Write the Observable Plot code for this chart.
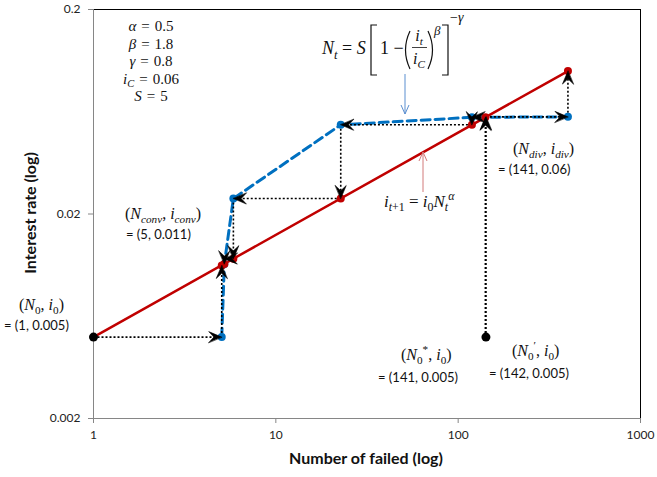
<!DOCTYPE html>
<html>
<head>
<meta charset="utf-8">
<script src="https://cdn.jsdelivr.net/npm/d3@7"></script>
<script src="https://cdn.jsdelivr.net/npm/@observablehq/plot@0.6"></script>
<style>
  html, body { margin: 0; padding: 0; background: #fff; }
  #chart svg { display: block; }
</style>
</head>
<body>
<div id="chart"></div>
<script>
// ---- data ----
const xTicks = [1, 10, 100, 1000];
const yTicks = [0.002, 0.02, 0.2];

// red line i_{t+1} = i0 * N_t^alpha
const redLineN = [1, 400];
const redLineI = [0.005, 0.1];

// blue dashed curve N_t = S[1-(i/iC)^beta]^-gamma (points along the cobweb)
const blueN = [5.05, 5.22, 5.85, 22.7, 119, 400];
const blueI = [0.005, 0.0114, 0.0238, 0.0546, 0.0594, 0.0597];

// red markers on the red line
const redDotN = [5.05, 5.22, 5.85, 22.7, 119, 141, 400];
const redDotI = [0.0112, 0.0114, 0.0121, 0.0238, 0.0546, 0.0594, 0.1];

// black starting points
const startN = [1, 142];
const startI = [0.005, 0.005];

// cobweb paths (dotted arrows)
const pathAN = [1, 5.05, 5.05];
const pathAI = [0.005, 0.005, 0.0112];
const pathBN = [141, 141, 119, 119, 22.7, 22.7, 5.85, 5.85, 5.22, 5.22];
const pathBI = [0.005, 0.0594, 0.0594, 0.0546, 0.0546, 0.0238, 0.0238, 0.0121, 0.0121, 0.0114];
const pathCN = [142, 142, 400, 400];
const pathCI = [0.005, 0.0597, 0.0597, 0.1];

// ---- build tables ----
const pts = (N, I) => N.map((n, k) => ({x: n, y: I[k]}));
const segsOf = (N, I) => N.slice(0, -1).map((n, k) => ({x1: n, y1: I[k], x2: N[k + 1], y2: I[k + 1]}));
const segs = [...segsOf(pathAN, pathAI), ...segsOf(pathBN, pathBI), ...segsOf(pathCN, pathCI)];
const dirOf = d => d.y1 === d.y2 ? (d.x2 > d.x1 ? 90 : -90) : (d.y2 > d.y1 ? 0 : 180);

const stealth = {
  draw(ctx, l, r) {
    ctx.moveTo(0, -l);
    ctx.lineTo(-r, 0);
    ctx.lineTo(0, -l * 0.4);
    ctx.lineTo(r, 0);
    ctx.closePath();
  }
};

const RED = "#c00000", BLUE = "#0070c0", GRAY = "#868686";

const plot = Plot.plot({
  width: 657,
  height: 477,
  marginLeft: 93,
  marginRight: 17,
  marginTop: 9,
  marginBottom: 59,
  style: {fontFamily: "Lato, 'Open Sans', sans-serif", fontSize: "12px", background: "#fff", color: "#222"},
  x: {type: "log", domain: [1, 1000]},
  y: {type: "log", domain: [0.002, 0.2]},
  marks: [
    Plot.ruleY([0.2], {stroke: "black", strokeWidth: 1}),
    Plot.ruleX([1000], {stroke: "black", strokeWidth: 1}),
    Plot.ruleX([1], {stroke: GRAY, strokeWidth: 1}),
    Plot.ruleY([0.002], {stroke: GRAY, strokeWidth: 1}),
    Plot.axisX({ticks: xTicks, tickFormat: d => String(d), tickSize: 5, tickPadding: 7, stroke: GRAY, fill: "#222", label: null, fontSize: 12}),
    Plot.axisY({ticks: yTicks, tickFormat: d => String(d), tickSize: 5, tickPadding: 8, stroke: GRAY, fill: "#222", label: null, fontSize: 12}),
    Plot.line(pts(redLineN, redLineI), {x: "x", y: "y", stroke: RED, strokeWidth: 2.5}),
    Plot.line(pts(blueN, blueI), {x: "x", y: "y", stroke: BLUE, strokeWidth: 3, strokeDasharray: "9,5"}),
    Plot.link(segs, {x1: "x1", y1: "y1", x2: "x2", y2: "y2", stroke: "black", strokeWidth: 1.6, strokeDasharray: "2,2"}),
    Plot.dot(pts(blueN, blueI), {x: "x", y: "y", r: 4, fill: BLUE}),
    Plot.dot(pts(redDotN, redDotI), {x: "x", y: "y", r: 4, fill: RED}),
    Plot.dot(pts(startN, startI), {x: "x", y: "y", r: 4.5, fill: "black"}),
    Plot.vector(segs, {x: "x2", y: "y2", rotate: dirOf, length: 13, r: 5.5, anchor: "end", shape: stealth, fill: "black", stroke: "black", strokeWidth: 0.6})
  ]
});

document.getElementById("chart").appendChild(plot);

// ---- annotations ----
const svg = d3.select(plot);
const g = svg.append("g");
const SERIF = "'Liberation Serif', 'DejaVu Serif', serif";

function mtext(x, y, parts, {size = 16, anchor = "start", fill = "#111"} = {}) {
  const t = g.append("text").attr("x", x).attr("y", y)
    .attr("font-family", SERIF).attr("font-size", size)
    .attr("text-anchor", anchor).attr("fill", fill);
  let off = 0;
  for (const [s, st = ""] of parts) {
    const target = st.includes("_") ? size * 0.25 : st.includes("^") ? -size * 0.42 : 0;
    const ts = t.append("tspan").attr("dy", target - off).text(s);
    off = target;
    if (st.includes("i")) ts.attr("font-style", "italic");
    if (target !== 0) ts.attr("font-size", size * 0.7);
  }
  return t;
}
function stext(x, y, s, {size = 13, anchor = "start", weight = "normal"} = {}) {
  return g.append("text").attr("x", x).attr("y", y)
    .attr("font-family", "Lato, 'Open Sans', sans-serif").attr("font-size", size)
    .attr("font-weight", weight).attr("text-anchor", anchor).attr("fill", "#111").text(s);
}
function path(d, stroke = "#111", w = 1.2) {
  g.append("path").attr("d", d).attr("fill", "none").attr("stroke", stroke).attr("stroke-width", w);
}

// parameters block
const EQ = "\u2004=\u2004";
mtext(151, 31, [["α", "i"], [EQ + "0.5"]], {anchor: "middle", size: 15});
mtext(151, 48.5, [["β", "i"], [EQ + "1.8"]], {anchor: "middle", size: 15});
mtext(151, 66, [["γ", "i"], [EQ + "0.8"]], {anchor: "middle", size: 15});
mtext(151, 83.5, [["i", "i"], ["C", "i_"], [EQ + "0.06"]], {anchor: "middle", size: 15});
mtext(151, 101, [["S", "i"], [EQ + "5"]], {anchor: "middle", size: 15});

// blue formula
mtext(322, 54, [["N", "i"], ["t", "i_"], [" = "], ["S", "i"]], {size: 18});
path("M377,25 H371 V75 H377");
mtext(380, 54, [["1 −"]], {size: 18});
path("M410,31 Q401,50 410,69");
mtext(419, 41, [["i", "i"], ["t", "i_"]], {size: 16, anchor: "middle"});
path("M412,47.5 H427", "#111", 0.8);
mtext(419, 64, [["i", "i"], ["C", "i_"]], {size: 16, anchor: "middle"});
path("M428,31 Q437,50 428,69");
mtext(434, 35, [["β", "i"]], {size: 13});
path("M442,25 H448 V75 H442");
mtext(450, 22, [["−"], ["γ", "i"]], {size: 14});
// blue pointer
path("M405,74 V114 M401,105 L405,114 L409,105", "#5b8fd0", 1);

// red formula
mtext(384, 207, [["i", "i"], ["t", "i_"], ["+1", "_"], [" = "], ["i", "i"], ["0", "_"], ["N", "i"], ["t", "i_"], ["α", "i^"]], {size: 17});
// red pointer
path("M423,192 V152 M419,161 L423,152 L427,161", "#d27a7a", 1);

// point labels
mtext(125, 219, [["("], ["N", "i"], ["conv", "i_"], [", "], ["i", "i"], ["conv", "i_"], [")"]], {size: 16});
stext(126, 239, "= (5, 0.011)");
mtext(19, 310, [["("], ["N", "i"], ["0", "_"], [", "], ["i", "i"], ["0", "_"], [")"]], {size: 16});
stext(4, 330, "= (1, 0.005)");
mtext(513, 154, [["("], ["N", "i"], ["div", "i_"], [", "], ["i", "i"], ["div", "i_"], [")"]], {size: 16});
stext(498, 174, "= (141, 0.06)");
mtext(401, 360, [["("], ["N", "i"], ["0", "_"], ["*", "^"], [", "], ["i", "i"], ["0", "_"], [")"]], {size: 16});
stext(378, 382, "= (141, 0.005)");
mtext(512, 356, [["("], ["N", "i"], ["0", "_"], ["′", "^"], [", "], ["i", "i"], ["0", "_"], [")"]], {size: 16});
stext(489, 378, "= (142, 0.005)");

// axis titles
stext(366, 464, "Number of failed (log)", {size: 16, anchor: "middle", weight: "bold"});
g.append("text").attr("transform", "translate(36,213) rotate(-90)")
  .attr("font-family", "Lato, 'Open Sans', sans-serif").attr("font-size", 16)
  .attr("font-weight", "bold").attr("text-anchor", "middle").attr("fill", "#111")
  .text("Interest rate (log)");
</script>
</body>
</html>
